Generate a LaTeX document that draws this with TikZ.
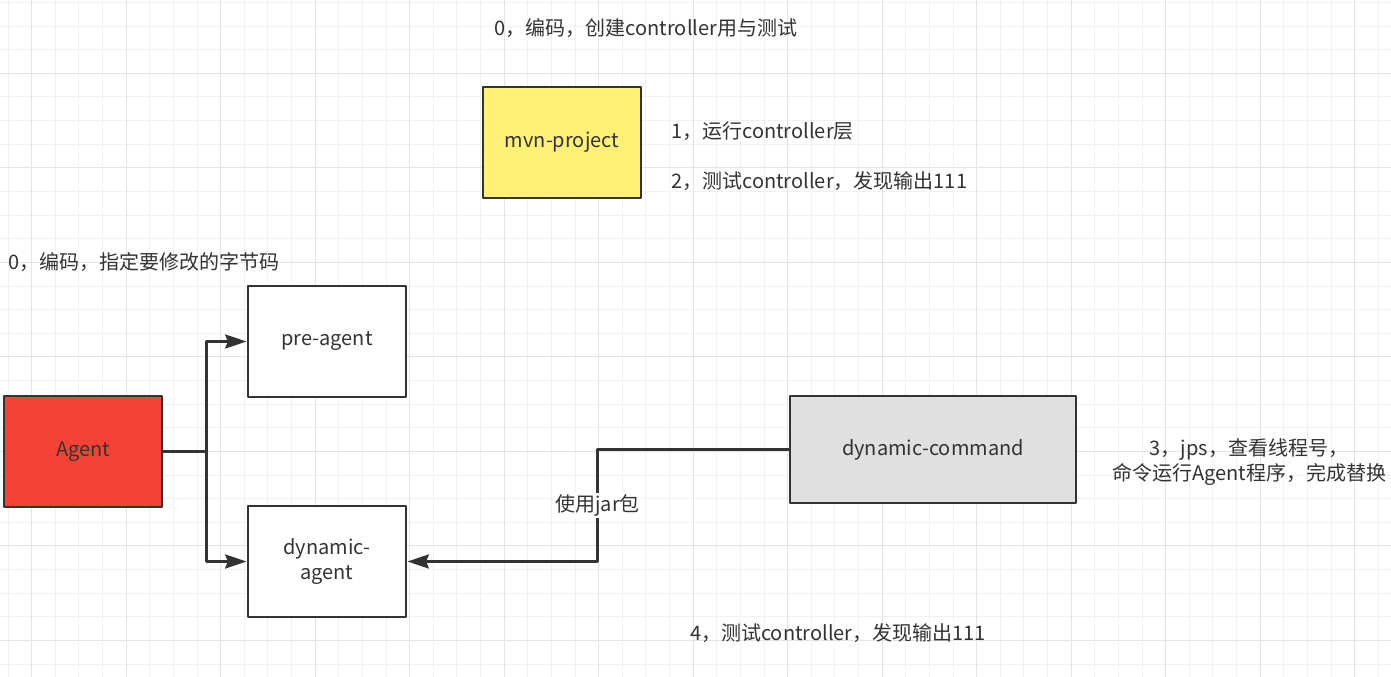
\documentclass[tikz,border=0pt]{standalone}
\usepackage{fontspec}
\setmainfont{Noto Sans CJK SC}
\usepackage{tikz}
\usetikzlibrary{arrows.meta}
\definecolor{inkgray}{HTML}{333333}
\definecolor{agentred}{HTML}{F44336}
\definecolor{mvnyellow}{HTML}{FFF176}
\definecolor{cmdgray}{HTML}{E0E0E0}
\definecolor{minorgrid}{HTML}{F1F1F1}
\definecolor{majorgrid}{HTML}{E4E4E4}
\tikzset{
  box/.style={draw=inkgray, line width=2.2pt, text=inkgray, minimum width=118.5pt,
    minimum height=83.25pt, align=center, inner sep=2pt},
  note/.style={text=inkgray, inner sep=0pt, align=center},
  link/.style={draw=inkgray, line width=2.2pt},
  arrowlink/.style={link, -{Stealth[length=16pt, width=10.5pt, inset=2pt]}},
}

\begin{document}
\begin{tikzpicture}[x=0.75pt, y=-0.75pt, line join=round,
  every node/.append style={font=\fontsize{15}{18.75}\selectfont}]
\useasboundingbox[fill=white] (0,0) rectangle (1391,677);
% grid
\foreach \i in {0,...,58}
  \draw[minorgrid, line width=0.75pt] ({8.1+23.625*\i},0) -- ++(0,677);
\foreach \j in {0,...,28}
  \draw[minorgrid, line width=0.75pt] (0,{2.5+23.625*\j}) -- ++(1391,0);
\foreach \i in {0,...,14}
  \draw[majorgrid, line width=0.75pt] ({31.7+94.5*\i},0) -- ++(0,677);
\foreach \j in {0,...,6}
  \draw[majorgrid, line width=0.75pt] (0,{73.3+94.5*\j}) -- ++(1391,0);

% boxes
\node[box, fill=mvnyellow] (mvn) at (562,142.5) {\raisebox{-2pt}{mvn-project}};
\node[box, fill=white] (pre) at (327,341.5) {\raisebox{-2pt}{pre-agent}};
\node[box, fill=agentred] (agent) at (83,451.5) {\raisebox{-2pt}{Agent}};
\node[box, fill=white] (dynagent) at (327,561.5) {dynamic-\\agent};
\node[box, fill=cmdgray, minimum width=214.5pt, minimum height=80.25pt] (dyncmd) at (933,449.5) {dynamic-command};

% notes
\node[note] (title0) at (646,28) {0，编码，创建controller用与测试};
\node[note, anchor=west] (step1) at (671,131) {1，运行controller层};
\node[note, anchor=west] (step2) at (671,181) {2，测试controller，发现输出111};
\node[note, anchor=west] (left0) at (8,262) {0，编码，指定要修改的字节码};
\node[note] (step3) at (1249,462) {3，jps，查看线程号，\\命令运行Agent程序，完成替换};
\node[note] (step4) at (838,633) {4，测试controller，发现输出111};

% connectors
\draw[link] (agent.east) -- ++(43,0) coordinate (split);
\draw[arrowlink] (split) |- (pre.west);
\draw[arrowlink] (split) |- (dynagent.west);
\draw[arrowlink] (dyncmd.west) -- ++(-191,0) |- (dynagent.east)
  node[pos=0.25, note, fill=white, inner sep=1pt] (jar) {使用jar包};
\end{tikzpicture}
\end{document}
